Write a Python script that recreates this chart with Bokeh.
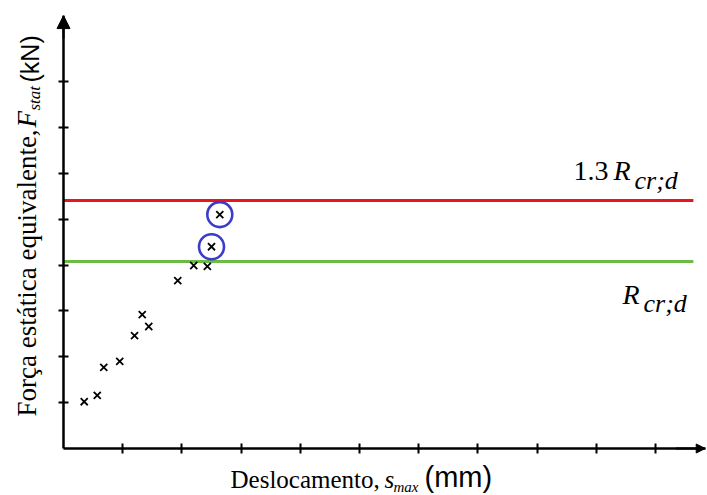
import math
from bokeh.plotting import figure
from bokeh.models import Label, Arrow, NormalHead, FixedTicker, LinearAxis
from bokeh.embed import file_html
from bokeh.resources import INLINE

# ---- data ----
disp = [0.35, 0.57, 0.68, 0.95, 1.20, 1.33, 1.44, 1.93, 2.20, 2.43]
force = [1.02, 1.16, 1.77, 1.90, 2.46, 2.92, 2.66, 3.66, 3.99, 3.97]
disp_circled = [2.50, 2.64]
force_circled = [4.40, 5.10]
r_crd = 4.08
r_crd_13 = 5.41
x_ticks = [1, 2, 3, 4, 5, 6, 7, 8, 9, 10]
y_ticks = [1, 2, 3, 4, 5, 6, 7, 8]
x_max = 10.84
y_max = 9.44
line_end = 10.64

SERIF = "Liberation Serif"
SANS = "Liberation Sans"

# pixel geometry of the frame (canvas 707x495)
X0_PX, Y0_PX = 63, 448          # where the data origin sits
PX_X, PX_Y = 59.2, 45.86        # pixels per data unit
LEFT, TOP = 15, 15              # side panels

def dx(px):
    return (px - X0_PX) / PX_X

def dy(py):
    return (Y0_PX - py) / PX_Y

p = figure(width=707, height=495,
           x_range=(dx(LEFT), dx(707)), y_range=(dy(495), dy(TOP)),
           output_backend="svg", toolbar_location=None,
           x_axis_location=None, y_axis_location=None,
           min_border_left=LEFT, min_border_top=TOP,
           min_border_bottom=0, min_border_right=0)
p.outline_line_color = None
p.grid.visible = False
p.background_fill_color = "white"
p.border_fill_color = "white"

xaxis = LinearAxis(fixed_location=0, bounds=(0, x_max))
yaxis = LinearAxis(fixed_location=0, bounds=(0, y_max))
for ax, ticks in ((xaxis, x_ticks), (yaxis, y_ticks)):
    ax.ticker = FixedTicker(ticks=ticks)
    ax.major_label_overrides = {t: "" for t in ticks}
    ax.major_label_text_font_size = "1px"
    ax.major_label_standoff = 0
    ax.axis_line_width = 2.5
    ax.axis_line_color = "black"
    ax.major_tick_line_width = 2
    ax.major_tick_line_color = "black"
    ax.major_tick_in = 5
    ax.major_tick_out = 5
    ax.minor_tick_line_color = None
p.add_layout(xaxis, "above")
p.add_layout(yaxis, "left")

# axis arrows
p.add_layout(Arrow(end=NormalHead(size=13, fill_color="black", line_color="black"),
                   x_start=0, y_start=y_max - 0.5, x_end=0, y_end=y_max,
                   line_color="black", line_width=2))
p.add_layout(Arrow(end=NormalHead(size=9, fill_color="black", line_color="black"),
                   x_start=x_max - 0.5, y_start=0, x_end=x_max, y_end=0,
                   line_color="black", line_width=2))

# horizontal limit lines
p.segment(x0=[0], y0=[r_crd_13], x1=[line_end], y1=[r_crd_13], line_color="#e8161c", line_width=3)
p.segment(x0=[0], y0=[r_crd], x1=[line_end], y1=[r_crd], line_color="#6cbb45", line_width=3)

# points
p.scatter(disp + disp_circled, force + force_circled, marker="x", size=10,
          line_color="black", line_width=1.8)
p.scatter(disp_circled, force_circled, marker="circle", size=25,
          fill_color=None, line_color="#3b3bcc", line_width=2.6)

def lab(text, px, py, size, font, style="normal", angle=0.0):
    k = 0.38 * size   # compensate baseline placement
    if angle == 0.0:
        py -= k
    else:
        px -= k
    p.add_layout(Label(x=dx(px), y=dy(py),
                       text=text, text_font=font, text_font_size=f"{size}px",
                       text_font_style=style, text_baseline="alphabetic",
                       text_align="left", angle=angle, text_color="black"))

# line labels
lab("1.3", 573, 181, 28, SERIF)
lab("R", 613, 181, 28, SERIF, "italic")
lab("cr;d", 634, 190, 26, SERIF, "italic")
lab("R", 622, 305, 28, SERIF, "italic")
lab("cr;d", 643, 313, 26, SERIF, "italic")

# x axis title
lab("Deslocamento,", 230, 488, 25, SERIF)
lab("s", 384, 488, 25, SERIF, "italic")
lab("max", 393, 492, 15, SERIF, "italic")
lab("(mm)", 424, 488, 29, SANS)

# y axis title (rotated)
a = math.pi / 2
lab("Força estática equivalente,", 37, 416, 27, SERIF, angle=a)
lab("F", 37, 127, 27, SERIF, "italic", angle=a)
lab("stat", 40, 110, 17, SERIF, "italic", angle=a)
lab("(kN)", 39, 82, 25, SANS, angle=a)

open("out.html", "w").write(file_html(p, INLINE))
